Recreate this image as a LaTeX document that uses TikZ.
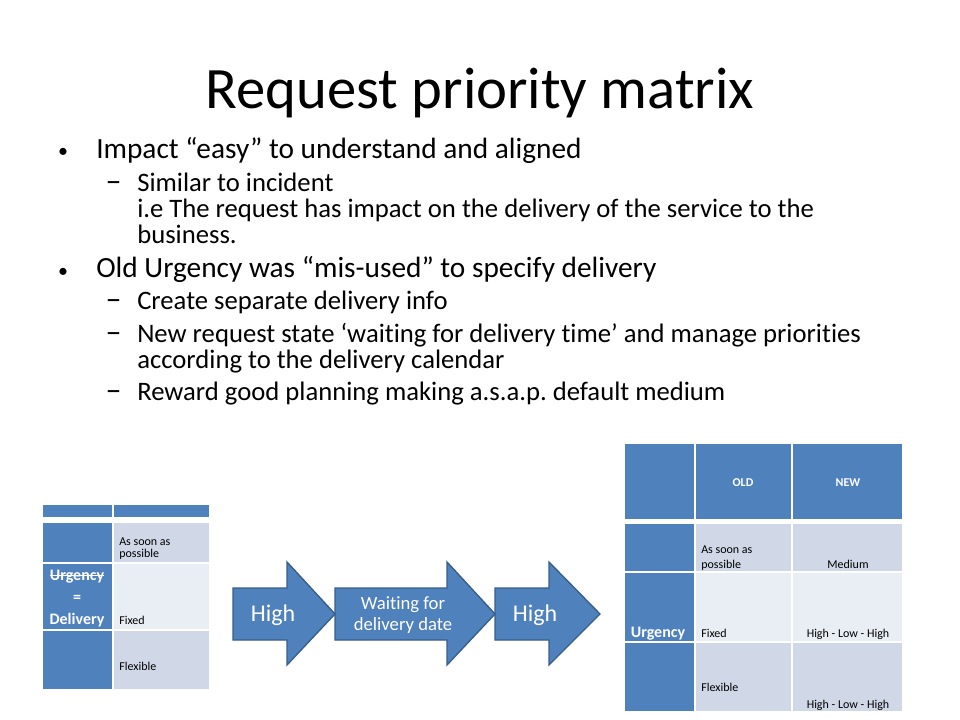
\documentclass[tikz,border=0pt]{standalone}
\usepackage{fontspec}
\setmainfont{Carlito}[Ligatures=NoCommon]
\usepackage{xcolor}
\frenchspacing

\begin{document}
\begin{tikzpicture}[x=0.75pt,y=-0.75pt,
  lvlone/.style={anchor=base west,inner sep=0,font=\fontsize{22}{26}\selectfont},
  lvltwo/.style={anchor=base west,inner sep=0,font=\fontsize{20}{24}\selectfont},
  celltext/.style={anchor=base west,inner sep=0,font=\fontsize{9}{11}\selectfont},
  headtext/.style={anchor=base,inner sep=0,text=white,font=\bfseries\fontsize{9}{11}\selectfont},
  bigtext/.style={anchor=base,inner sep=0,text=white,font=\bfseries\fontsize{12}{14}\selectfont},
  cellbox/.style={draw=white,line width=1.5},
  blockarrow/.style={fill=tblue,draw=tborder,line width=1},
  arrowtext/.style={anchor=base,inner sep=0,text=white}]
\definecolor{tblue}{HTML}{4F81BD}
\definecolor{tborder}{HTML}{385D8A}
\definecolor{tpale}{HTML}{D0D8E8}
\definecolor{tlight}{HTML}{E9EDF4}
\useasboundingbox (0,0) rectangle (960,720);

\node[anchor=base,font=\fontsize{44}{53}\selectfont] (title) at (480,109) {Request priority matrix};

% bullets
\node[anchor=base,inner sep=0,font=\fontsize{15}{18}\selectfont] (b1) at (63,158) {•};
\node[anchor=base,inner sep=0,font=\fontsize{15}{18}\selectfont] (b2) at (63,277) {•};
\node[lvlone] (impact) at (96,159) {Impact “easy” to understand and aligned};
\node[lvlone] (old) at (96,278) {Old Urgency was “mis-used” to specify delivery};
\foreach \nm/\yy in {d1/192,d2/310,d3/342,d4/400}
  {\node[lvltwo,anchor=base,font=\fontsize{24}{26}\selectfont] (\nm) at (113.5,\yy) {–};}
\foreach \nm/\yy/\txt in {sim/192/Similar to incident,
    ie/218/i.e The request has impact on the delivery of the service to the,
    bus/244/business.,
    create/310/Create separate delivery info,
    state/342/New request state ‘waiting for delivery time’ and manage priorities,
    cal/368/according to the delivery calendar,
    reward/400/Reward good planning making a.s.a.p. default medium}
  {\node[lvltwo] (\nm) at (137,\yy) {\txt};}

% left table
\foreach \xa/\ya/\xb/\yb/\clr in {42/504/113/518/tblue, 113/504/210/518/tblue,
    42/522/113/563/tblue, 113/522/210/563/tpale,
    42/563/113/630/tblue, 113/563/210/630/tlight,
    42/630/113/690/tblue, 113/630/210/690/tpale}
  {\filldraw[cellbox,fill=\clr] (\xa,\ya) rectangle (\xb,\yb);}
\node[celltext] (asap) at (119,545) {As soon as};
\node[celltext] (poss) at (119,557) {possible};
\node[celltext] (fixed) at (119,624) {Fixed};
\node[celltext] (flex) at (119,670) {Flexible};
\node[bigtext] (urg) at (77,580) {Urgency};
\draw[white,line width=0.9] ([yshift=3.6pt]urg.base west) -- ([yshift=3.6pt]urg.base east);
\node[bigtext] (eq) at (77,602) {=};
\node[bigtext] (deliv) at (77,624) {Delivery};

% arrows
\foreach \xa/\xb/\xc in {233/287/335,335/447/495,495/549/600}
  {\filldraw[blockarrow] (\xa,588) -- (\xb,588) -- (\xb,562) -- (\xc,614)
     -- (\xb,665) -- (\xb,640) -- (\xa,640) -- cycle;}
\node[arrowtext,font=\fontsize{18}{20}\selectfont] (high1) at (273,621) {High};
\node[arrowtext,font=\fontsize{14}{16}\selectfont] (wait) at (403,609) {Waiting for};
\node[arrowtext,font=\fontsize{14}{16}\selectfont] (date) at (403,630) {delivery date};
\node[arrowtext,font=\fontsize{18}{20}\selectfont] (high2) at (535,621) {High};

% right table
\foreach \xa/\ya/\xb/\yb/\clr in {624/443/695/520/tblue, 695/443/792/520/tblue, 792/443/903/520/tblue,
    624/523/695/572/tblue, 695/523/792/572/tpale, 792/523/903/572/tpale,
    624/572/695/642/tblue, 695/572/792/642/tlight, 792/572/903/642/tlight,
    624/642/695/712/tblue, 695/642/792/712/tpale, 792/642/903/712/tpale}
  {\filldraw[cellbox,fill=\clr] (\xa,\ya) rectangle (\xb,\yb);}
\node[headtext] (oldh) at (743,486) {OLD};
\node[headtext] (newh) at (848,486) {NEW};
\node[celltext] (rasap) at (701,553) {As soon as};
\node[celltext] (rposs) at (701,568) {possible};
\node[celltext] (rfixed) at (701,637) {Fixed};
\node[celltext] (rflex) at (701,691) {Flexible};
\node[celltext,anchor=base] (medium) at (848,568) {Medium};
\node[celltext,anchor=base] (hlh1) at (848,637) {High - Low - High};
\node[celltext,anchor=base] (hlh2) at (848,708) {High - Low - High};
\node[bigtext] (rurg) at (658,637) {Urgency};
\end{tikzpicture}
\end{document}
